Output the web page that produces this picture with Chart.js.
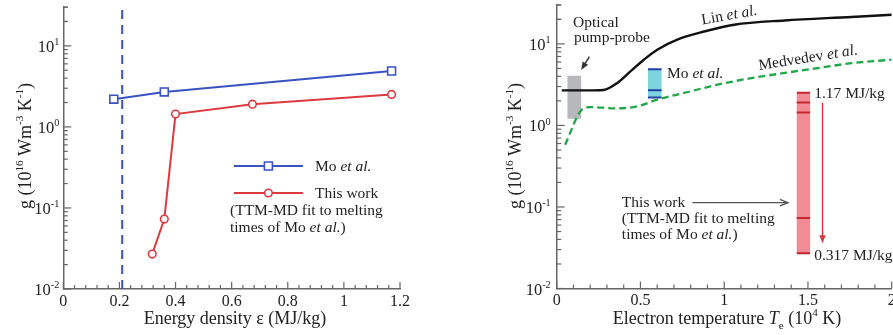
<!DOCTYPE html>
<html>
<head>
<meta charset="utf-8">
<script src="https://cdn.jsdelivr.net/npm/chart.js@4.4.1/dist/chart.umd.min.js"></script>
<style>
  html, body { margin: 0; padding: 0; background: #fff; }
  #wrap { position: relative; width: 893px; height: 335px; overflow: hidden; }
  #left { position: absolute; left: 0; top: 0; }
  #right { position: absolute; left: 450px; top: 0; }
</style>
</head>
<body>
<div id="wrap">
  <canvas id="left" width="450" height="335" style="width:450px;height:335px"></canvas>
  <canvas id="right" width="443" height="335" style="width:443px;height:335px"></canvas>
</div>
<script>
// ---- left panel: g vs energy density ----
const moEnergy = [0.18, 0.36, 1.17];
const moG = [2.2, 2.7, 4.9];
const thisEnergy = [0.317, 0.36, 0.40, 0.674, 1.17];
const thisG = [0.027, 0.073, 1.44, 1.91, 2.52];
const cutoffEnergy = 0.21;

// ---- right panel: g vs electron temperature ----
const linTe = [0.03, 0.22, 0.28, 0.36, 0.44, 0.52, 0.60, 0.72, 0.88, 1.06, 1.36, 1.76, 2.0];
const linG = [2.69, 2.69, 2.72, 3.3, 4.6, 6.4, 8.5, 11.3, 14.2, 17.2, 19.4, 21.4, 22.8];
const medTe = [0.05, 0.15, 0.20, 0.36, 0.48, 0.60, 0.76, 0.96, 1.16, 1.36, 1.56, 1.76, 2.0];
const medG = [0.58, 1.56, 1.68, 1.62, 1.71, 2.07, 2.5, 3.16, 3.8, 4.4, 5.06, 5.8, 6.4];
const pumpProbeTe = [0.064, 0.146];
const pumpProbeG = [1.21, 4.07];
const moBoxTe = [0.545, 0.626];
const thisBoxTe = [1.433, 1.513];

// ticks
const yDecades = [0.01, 0.1, 1, 10];
const yExps = ['-2', '-1', '0', '1'];
const leftXMajor = [0, 0.2, 0.4, 0.6, 0.8, 1, 1.2];
const rightXMajor = [0, 0.5, 1, 1.5, 2];

const FONT = '"Liberation Serif", "Times New Roman", serif';
const INK = '#222';
const AXIS = '#666';

const yTicks = [];
yDecades.forEach(d => { for (let m = 1; m <= 9; m++) yTicks.push(d * m); });
yTicks.push(20, 30);

function minorTicks(majors, n) {
  const out = [];
  for (let i = 0; i < majors.length - 1; i++) {
    const step = (majors[i + 1] - majors[i]) / n;
    for (let k = 0; k < n; k++) out.push(+(majors[i] + k * step).toFixed(4));
  }
  out.push(majors[majors.length - 1]);
  return out;
}

const pts = (xs, ys) => xs.map((x, i) => ({ x, y: ys[i] }));
const rect = (xs, ys) => [
  { x: xs[0], y: ys[0] }, { x: xs[0], y: ys[1] },
  { x: xs[1], y: ys[1] }, { x: xs[1], y: ys[0] }, { x: xs[0], y: ys[0] }
];
const hline = (xs, v) => [{ x: xs[0], y: v }, { x: xs[1], y: v }];

// rich text: parts = [[text, kind]] with kind n / i / sup / sub
function richText(ctx, parts, x, y, align, size) {
  const fontFor = k => {
    const s = (k === 'sup' || k === 'sub') ? size * 0.62 : size;
    return (k === 'i' ? 'italic ' : '') + s + 'px ' + FONT;
  };
  let w = 0;
  parts.forEach(([t, k]) => { ctx.font = fontFor(k); w += ctx.measureText(t).width; });
  let cx = align === 'center' ? x - w / 2 : align === 'right' ? x - w : x;
  ctx.textAlign = 'left';
  ctx.textBaseline = 'alphabetic';
  parts.forEach(([t, k]) => {
    ctx.font = fontFor(k);
    const dy = k === 'sup' ? -size * 0.42 : k === 'sub' ? size * 0.25 : 0;
    ctx.fillText(t, cx, y + dy);
    cx += ctx.measureText(t).width;
  });
}

function arrow(ctx, x0, y0, x1, y1, color, style) {
  const ang = Math.atan2(y1 - y0, x1 - x0);
  const L = 8, W = 3.2;
  ctx.save();
  ctx.strokeStyle = color; ctx.fillStyle = color; ctx.lineWidth = 1.4;
  ctx.beginPath(); ctx.moveTo(x0, y0);
  ctx.lineTo(x1 - Math.cos(ang) * (style === 'open' ? 0 : L * 0.6), y1 - Math.sin(ang) * (style === 'open' ? 0 : L * 0.6));
  ctx.stroke();
  const bx = x1 - Math.cos(ang) * L, by = y1 - Math.sin(ang) * L;
  const nx = -Math.sin(ang) * W, ny = Math.cos(ang) * W;
  ctx.beginPath();
  ctx.moveTo(bx + nx, by + ny); ctx.lineTo(x1, y1); ctx.lineTo(bx - nx, by - ny);
  if (style === 'open') ctx.stroke(); else { ctx.closePath(); ctx.fill(); }
  ctx.restore();
}

function decorPlugin(cfg) {
  return {
    id: 'decor',
    afterDraw(chart) {
      const { ctx, chartArea: a, scales: { x, y } } = chart;
      ctx.save();
      // inward tick marks
      ctx.strokeStyle = AXIS; ctx.lineWidth = 1.2;
      x.ticks.forEach(t => {
        const px = x.getPixelForValue(t.value);
        const len = t.label ? 7 : 4;
        ctx.beginPath(); ctx.moveTo(px, a.bottom); ctx.lineTo(px, a.bottom - len); ctx.stroke();
      });
      y.ticks.forEach(t => {
        const py = y.getPixelForValue(t.value);
        const lg = Math.log10(t.value);
        const len = Math.abs(lg - Math.round(lg)) < 1e-6 ? 8 : 4.5;
        ctx.beginPath(); ctx.moveTo(a.left, py); ctx.lineTo(a.left + len, py); ctx.stroke();
      });
      // y tick labels 10^n
      ctx.fillStyle = INK;
      yDecades.forEach((d, i) => {
        const py = y.getPixelForValue(d);
        richText(ctx, [['10', 'n'], [yExps[i], 'sup']], a.left - cfg.ylabGap, py + 6, 'right', 16.5);
      });
      // y axis title
      ctx.save();
      ctx.translate(cfg.ytitleX, cfg.ytitleY);
      ctx.rotate(-Math.PI / 2);
      richText(ctx, [['g (10', 'n'], ['16', 'sup'], [' Wm', 'n'], ['-3', 'sup'], [' K', 'n'], ['-1', 'sup'], [')', 'n']], 0, 6, 'center', 18);
      ctx.restore();
      // x axis title
      richText(ctx, cfg.xtitle, cfg.xtitleX, 324, 'center', 18);
      // arrows
      (cfg.arrows || []).forEach(ar => {
        arrow(ctx, x.getPixelForValue(ar.from[0]), y.getPixelForValue(ar.from[1]),
          x.getPixelForValue(ar.to[0]), y.getPixelForValue(ar.to[1]), ar.color, ar.style);
      });
      // legend samples
      (cfg.legend || []).forEach(lg => {
        const x0 = x.getPixelForValue(lg.x[0]), x1 = x.getPixelForValue(lg.x[1]);
        const xm = (x0 + x1) / 2, py = y.getPixelForValue(lg.y);
        ctx.strokeStyle = lg.color; ctx.lineWidth = 2;
        ctx.beginPath(); ctx.moveTo(x0, py); ctx.lineTo(x1, py); ctx.stroke();
        ctx.fillStyle = '#fff'; ctx.lineWidth = 1.6;
        ctx.beginPath();
        if (lg.marker === 'rect') ctx.rect(xm - 4, py - 4, 8, 8); else ctx.arc(xm, py, 3.8, 0, Math.PI * 2);
        ctx.fill(); ctx.stroke();
      });
      // annotations
      ctx.fillStyle = INK;
      (cfg.notes || []).forEach(n => {
        const px = x.getPixelForValue(n.x), py = y.getPixelForValue(n.y);
        ctx.save();
        ctx.translate(px, py);
        if (n.rot) ctx.rotate(n.rot * Math.PI / 180);
        richText(ctx, n.parts, 0, 5.2, n.align || 'left', 15.5);
        ctx.restore();
      });
      ctx.restore();
    }
  };
}

function axes(xMajors, nMinor, xMax, yWidth, xHeight) {
  const xt = minorTicks(xMajors, nMinor);
  return {
    x: {
      type: 'linear', min: 0, max: xMax,
      afterBuildTicks: s => { s.ticks = xt.map(v => ({ value: v })); },
      afterFit: s => { s.height = xHeight; s.paddingLeft = 0; s.paddingRight = 0; },
      ticks: {
        autoSkip: false, maxRotation: 0, minRotation: 0, padding: 3, color: INK,
        font: { family: FONT, size: 16 },
        callback: v => xMajors.some(m => Math.abs(m - v) < 1e-6) ? String(+v.toFixed(2)) : ''
      },
      grid: { drawOnChartArea: false, drawTicks: false },
      border: { color: AXIS, width: 1.5 }
    },
    y: {
      type: 'logarithmic', min: 0.01, max: 30,
      afterBuildTicks: s => { s.ticks = yTicks.map(v => ({ value: v })); },
      afterFit: s => { s.width = yWidth; s.paddingTop = 0; s.paddingBottom = 0; },
      ticks: { display: false },
      grid: { drawOnChartArea: false, drawTicks: false },
      border: { color: AXIS, width: 1.5 }
    }
  };
}

const common = {
  responsive: false, animation: false, events: [],
  plugins: { legend: { display: false }, tooltip: { enabled: false } }
};

// ---- left chart ----
new Chart(document.getElementById('left'), {
  type: 'scatter',
  data: {
    datasets: [
      {
        data: pts(moEnergy, moG), showLine: true,
        borderColor: '#3a52c2', borderWidth: 2, backgroundColor: '#fff',
        pointStyle: 'rect', pointRadius: 5.6, pointBorderWidth: 1.6, order: 0
      },
      {
        data: pts(thisEnergy, thisG), showLine: true,
        borderColor: '#dd3a40', borderWidth: 2, backgroundColor: '#fff',
        pointStyle: 'circle', pointRadius: 3.8, pointBorderWidth: 1.6, order: 0
      },
      {
        data: [{ x: cutoffEnergy, y: 0.01 }, { x: cutoffEnergy, y: 30 }], showLine: true,
        borderColor: '#3a52c2', borderWidth: 2, borderDash: [9, 6], pointRadius: 0, order: 1
      }
    ]
  },
  options: {
    ...common,
    layout: { padding: { top: 5, right: 50, left: 0, bottom: 0 } },
    scales: axes(leftXMajor, 5, 1.2, 63.3, 46)
  },
  plugins: [decorPlugin({
    ylabGap: 4, ytitleX: 25, ytitleY: 146,
    xtitle: [['Energy density ε (MJ/kg)', 'n']], xtitleX: 235,
    legend: [
      { x: [0.608, 0.854], y: 0.33, color: '#3a52c2', marker: 'rect' },
      { x: [0.608, 0.854], y: 0.153, color: '#dd3a40', marker: 'circle' }
    ],
    notes: [
      { x: 0.897, y: 0.33, parts: [['Mo ', 'n'], ['et al.', 'i']] },
      { x: 0.897, y: 0.153, parts: [['This work', 'n']] },
      { x: 0.594, y: 0.095, parts: [['(TTM-MD fit to melting', 'n']] },
      { x: 0.594, y: 0.0589, parts: [['times of Mo ', 'n'], ['et al.', 'i'], [')', 'n']] }
    ]
  })]
});

// ---- right chart ----
const boxLine = (xs, v, color) => ({
  data: hline(xs, v), showLine: true, borderColor: color, borderWidth: 2, pointRadius: 0, order: 1
});
const boxFill = (xs, ys, color) => ({
  data: rect(xs, ys), showLine: true, fill: 'shape', backgroundColor: color,
  borderColor: 'rgba(0,0,0,0)', borderWidth: 1, pointRadius: 0, order: 2
});

new Chart(document.getElementById('right'), {
  type: 'scatter',
  data: {
    datasets: [
      {
        data: pts(linTe, linG), showLine: true, borderColor: '#111', borderWidth: 2.4,
        pointRadius: 0, cubicInterpolationMode: 'monotone', order: 0
      },
      {
        data: pts(medTe, medG), showLine: true, borderColor: '#1fa84a', borderWidth: 2.3,
        borderDash: [7, 4], pointRadius: 0, cubicInterpolationMode: 'monotone', order: 0
      },
      ...moG.map(v => boxLine(moBoxTe, v, '#2440a8')),
      ...thisG.map(v => boxLine(thisBoxTe, v, '#c4262d')),
      boxFill(pumpProbeTe, pumpProbeG, '#b7b8bb'),
      boxFill(moBoxTe, [moG[0], moG[moG.length - 1]], '#7dd3de'),
      boxFill(thisBoxTe, [thisG[0], thisG[thisG.length - 1]], '#f28c94')
    ]
  },
  options: {
    ...common,
    layout: { padding: { top: 5, right: 1.3, left: 0, bottom: 0 } },
    scales: axes(rightXMajor, 5, 2, 106.7, 46.5)
  },
  plugins: [decorPlugin({
    ylabGap: 6, ytitleX: 65, ytitleY: 146,
    xtitle: [['Electron temperature ', 'n'], ['T', 'i'], ['e', 'sub'], [' (10', 'n'], ['4', 'sup'], [' K)', 'n']],
    xtitleX: 277,
    arrows: [
      { from: [0.195, 7.0], to: [0.146, 4.8], color: '#333', style: 'solid' },
      { from: [0.81, 0.113], to: [1.38, 0.113], color: '#555', style: 'open' },
      { from: [1.587, 1.9], to: [1.587, 0.036], color: '#d8383e', style: 'solid' }
    ],
    notes: [
      { x: 0.098, y: 18.7, parts: [['Optical', 'n']] },
      { x: 0.104, y: 12.2, parts: [['pump-probe', 'n']] },
      { x: 1.03, y: 23.0, parts: [['Lin ', 'n'], ['et al.', 'i']], align: 'center', rot: -10 },
      { x: 0.659, y: 4.47, parts: [['Mo ', 'n'], ['et al.', 'i']] },
      { x: 1.50, y: 6.9, parts: [['Medvedev ', 'n'], ['et al.', 'i']], align: 'center', rot: -9 },
      { x: 1.537, y: 2.54, parts: [['1.17 MJ/kg', 'n']] },
      { x: 1.537, y: 0.0259, parts: [['0.317 MJ/kg', 'n']] },
      { x: 0.389, y: 0.115, parts: [['This work', 'n']] },
      { x: 0.389, y: 0.073, parts: [['(TTM-MD fit to melting', 'n']] },
      { x: 0.389, y: 0.0469, parts: [['times of Mo ', 'n'], ['et al.', 'i'], [')', 'n']] }
    ]
  })]
});
</script>
</body>
</html>
